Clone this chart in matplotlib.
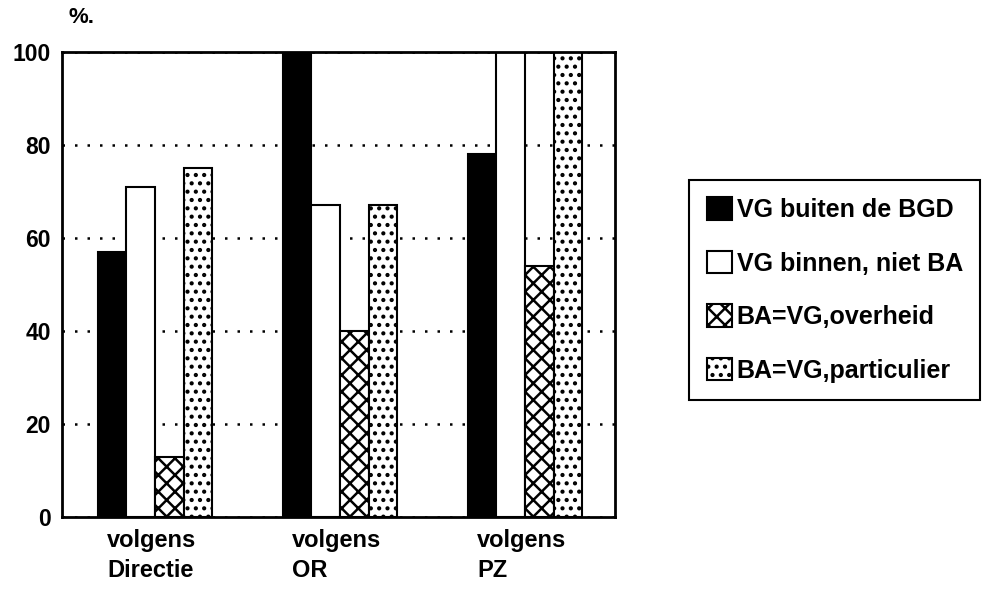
import matplotlib
matplotlib.use('Agg')
import matplotlib.pyplot as plt
import matplotlib.transforms as mtransforms
import numpy as np

# data (percentages)
groups = ['volgens\nDirectie', 'volgens\nOR', 'volgens\nPZ']
series = ['VG buiten de BGD', 'VG binnen, niet BA', 'BA=VG,overheid', 'BA=VG,particulier']
buiten_bgd = [57, 100, 78]
binnen_niet_ba = [71, 67, 100]
ba_overheid = [13, 40, 54]
ba_particulier = [75, 67, 100]
yticks = [0, 20, 40, 60, 80, 100]

plt.rcParams['font.family'] = ['Liberation Sans', 'DejaVu Sans']
plt.rcParams['font.weight'] = 'bold'
plt.rcParams['hatch.linewidth'] = 1.8
plt.rcParams['hatch.color'] = 'black'

fig = plt.figure(figsize=(9.96, 5.94), dpi=100)
ax = fig.add_axes([0.0622, 0.1296, 0.5553, 0.783])

x = np.arange(len(groups))
w = 0.155
values = [buiten_bgd, binnen_niet_ba, ba_overheid, ba_particulier]
faces = ['black', 'white', 'white', 'white']
hatches = [None, None, 'xx', '..']
for i in range(len(series)):
    ax.bar(x + (i - 1.5) * w, values[i], w, color=faces[i], edgecolor='black',
           linewidth=1.5, hatch=hatches[i], label=series[i], zorder=2)

ax.set_xlim(-0.503, 2.486)
ax.set_ylim(0, 100)
ax.set_yticks(yticks)
ax.set_yticklabels([str(t) for t in yticks], fontsize=16.5, fontweight='bold')
ax.tick_params(axis='y', length=0, pad=8)
ax.set_xticks([])
ax.yaxis.grid(True, linestyle=(0, (1, 4)), linewidth=1.8, color='black')
ax.set_axisbelow(True)
for s in ax.spines.values():
    s.set_linewidth(2)

# group labels, left aligned under each group
trans = mtransforms.blended_transform_factory(ax.transData, ax.transAxes)
for xi, lab in zip(x, groups):
    ax.text(xi - 0.26, -0.026, lab, transform=trans, ha='left', va='top',
            fontsize=17, fontweight='bold', linespacing=1.4)

fig.text(0.069, 0.988, '%.', ha='left', va='top', fontsize=16, fontweight='bold')

leg = ax.legend(loc='upper left', bbox_to_anchor=(0.692, 0.697),
                bbox_transform=fig.transFigure, frameon=True, fancybox=False,
                edgecolor='black', framealpha=1,
                prop={'size': 18, 'weight': 'bold'},
                handlelength=1.0, handleheight=1.0, handletextpad=0.2,
                labelspacing=1.15, borderpad=0.7, borderaxespad=0)
leg.get_frame().set_linewidth(1.5)

fig.savefig('out.png', dpi=100)
